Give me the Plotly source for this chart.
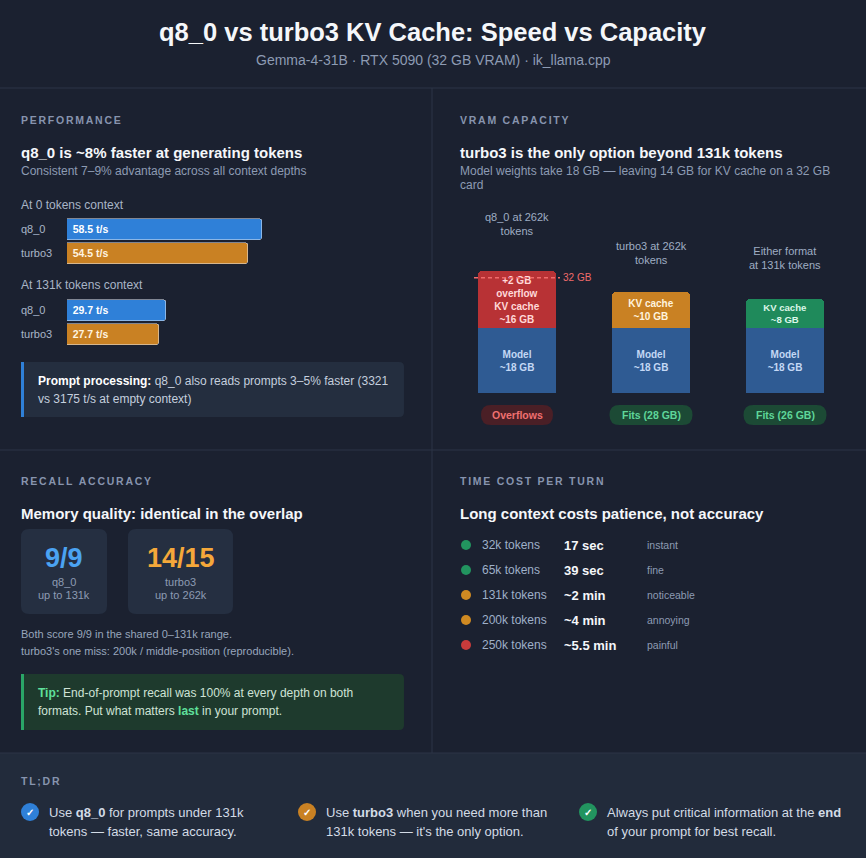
import plotly.graph_objects as go

W, H = 866, 858
FONT = "Liberation Sans, Arial, Helvetica, sans-serif"

BG = "#1b2130"
FOOTER_BG = "#222b3b"
RULE = "#2c3546"
WHITE = "#f5f7fa"
LABEL = "#8794ae"
MUTED = "#8d9bb3"
SOFT = "#a9b5c7"
BLUE = "#2f80d8"
ORANGE = "#c98123"
GREEN = "#1f8a5b"
RED = "#b83235"
MODEL_BLUE = "#2f5b93"

# --- data -------------------------------------------------------------
speed_formats = ["q8_0", "turbo3"]
speed_at_0k = [58.5, 54.5]
speed_at_131k = [29.7, 27.7]

vram_columns = ["q8_0 @ 262k", "turbo3 @ 262k", "either @ 131k"]
vram_labels = ["q8_0 at 262k<br>tokens", "turbo3 at 262k<br>tokens", "Either format<br>at 131k tokens"]
model_gb = [18, 18, 18]
kv_gb = [16, 10, 8]
card_gb = 32
vram_status = ["Overflows", "Fits (28 GB)", "Fits (26 GB)"]

recall_scores = ["9/9", "14/15"]
recall_formats = ["q8_0", "turbo3"]
recall_ranges = ["up to 131k", "up to 262k"]

turn_contexts = ["32k tokens", "65k tokens", "131k tokens", "200k tokens", "250k tokens"]
turn_times = ["17 sec", "39 sec", "~2 min", "~4 min", "~5.5 min"]
turn_feel = ["instant", "fine", "noticeable", "annoying", "painful"]
turn_colors = ["#22945f", "#22945f", "#d08a22", "#d08a22", "#c93b3b"]


def px(x):
    return x / W


def py(y):
    return 1 - y / H


annotations = []
shapes = []


def text(x, y, s, size=12, color=WHITE, anchor="left", **kw):
    annotations.append(dict(
        x=px(x), y=py(y), xref="paper", yref="paper", text=s, showarrow=False,
        xanchor=anchor, yanchor="middle", borderpad=0, borderwidth=0,
        font=dict(size=size, color=color, family=FONT), **kw))


def section(x, y, s):
    text(x, y, "<b>" + "\u2006".join(s) + "</b>", 10.5, LABEL)


def rect(x0, y0, x1, y1, fill, layer="below"):
    shapes.append(dict(type="rect", xref="paper", yref="paper", x0=px(x0), x1=px(x1),
                       y0=py(y1), y1=py(y0), fillcolor=fill, line_width=0, layer=layer))


def rrect(x0, y0, x1, y1, r, fill, layer="below"):
    def p(x, y):
        return f"{px(x):.5f},{py(y):.5f}"
    path = (f"M {p(x0 + r, y0)} L {p(x1 - r, y0)} Q {p(x1, y0)} {p(x1, y0 + r)} "
            f"L {p(x1, y1 - r)} Q {p(x1, y1)} {p(x1 - r, y1)} L {p(x0 + r, y1)} "
            f"Q {p(x0, y1)} {p(x0, y1 - r)} L {p(x0, y0 + r)} Q {p(x0, y0)} {p(x0 + r, y0)} Z")
    shapes.append(dict(type="path", xref="paper", yref="paper", path=path,
                       fillcolor=fill, line_width=0, layer=layer))


def hline(x0, x1, y, color=RULE):
    shapes.append(dict(type="line", xref="paper", yref="paper", x0=px(x0), x1=px(x1),
                       y0=py(y), y1=py(y), line=dict(color=color, width=1), layer="below"))


def vline(x, y0, y1, color=RULE):
    shapes.append(dict(type="line", xref="paper", yref="paper", x0=px(x), x1=px(x),
                       y0=py(y0), y1=py(y1), line=dict(color=color, width=1), layer="below"))


fig = go.Figure()

# --- frame ------------------------------------------------------------
rect(0, 753, W, H, FOOTER_BG)
hline(0, W, 88)
hline(0, W, 450)
hline(0, W, 753)
vline(432, 88, 753)

text(433, 32, "<b>q8_0 vs turbo3 KV Cache: Speed vs Capacity</b>", 25.5, WHITE, "center")
text(433, 60, "Gemma-4-31B · RTX 5090 (32 GB VRAM) · ik_llama.cpp", 14, MUTED, "center")

# --- performance ------------------------------------------------------
section(21, 120, "PERFORMANCE")
text(21, 152, "<b>q8_0 is ~8% faster at generating tokens</b>", 15)
text(21, 171, "Consistent 7–9% advantage across all context depths", 12, MUTED)
text(21, 205, "At 0 tokens context", 12, SOFT)
text(21, 285, "At 131k tokens context", 12, SOFT)

for i, vals in enumerate([speed_at_0k, speed_at_131k]):
    ax = "" if i == 0 else "2"
    fig.add_trace(go.Bar(
        x=vals, y=speed_formats, orientation="h", xaxis="x" + ax, yaxis="y" + ax,
        marker=dict(color=[BLUE, ORANGE], cornerradius=3), width=0.875,
        texttemplate="\u00a0<b>%{x} t/s</b>", textposition="inside", insidetextanchor="start",
        textfont=dict(size=10.5, color=["#ffffff", "#fff4e0"], family=FONT),
        hoverinfo="skip", showlegend=False))
    for f in speed_formats:
        annotations.append(dict(x=px(21), xref="paper", y=f, yref="y" + ax, text=f,
                                showarrow=False, xanchor="left", borderpad=0, borderwidth=0,
                                font=dict(size=11, color=SOFT, family=FONT)))

rrect(21, 362, 404, 417, 5, "#242e3f")
rect(21, 362, 24, 417, BLUE)
text(38, 381, "<span style='color:#ffffff'><b>Prompt processing:</b></span> q8_0 also reads prompts 3–5% faster (3321",
     12, "#c5cfde")
text(38, 399, "vs 3175 t/s at empty context)", 12, "#c5cfde")

# --- vram capacity ----------------------------------------------------
section(460, 120, "VRAM CAPACITY")
text(460, 152, "<b>turbo3 is the only option beyond 131k tokens</b>", 15)
text(460, 171, "Model weights take 18 GB — leaving 14 GB for KV cache on a 32 GB", 12, MUTED)
text(460, 185, "card", 12, MUTED)

fig.add_trace(go.Bar(
    x=vram_columns, y=model_gb, xaxis="x3", yaxis="y3", width=0.58,
    marker=dict(color=MODEL_BLUE, line_width=0),
    text=[f"<b>Model<br>~{v} GB</b>" for v in model_gb],
    textposition="inside", insidetextanchor="middle", textangle=0,
    textfont=dict(size=10, color="#c4d8f5", family=FONT),
    hoverinfo="skip", showlegend=False))

kv_text = []
for m, k in zip(model_gb, kv_gb):
    over = m + k - card_gb
    head = f"+{over} GB<br>overflow<br>" if over > 0 else ""
    kv_text.append(f"<b>{head}KV cache<br>~{k} GB</b>")

fig.add_trace(go.Bar(
    x=vram_columns, y=kv_gb, xaxis="x3", yaxis="y3", width=0.58,
    marker=dict(color=[RED, ORANGE, GREEN], line_width=0, cornerradius=4),
    text=kv_text, textposition="inside", insidetextanchor="middle", textangle=0,
    textfont=dict(size=10, color=["#ffd9d9", "#fff3de", "#dcf7e9"], family=FONT),
    hoverinfo="skip", showlegend=False))

shapes.append(dict(type="line", xref="paper", yref="y3", x0=px(474), x1=px(560),
                   y0=card_gb, y1=card_gb, line=dict(color="#f06b6b", width=1.5, dash="4px,3px"),
                   layer="above"))
annotations.append(dict(x=px(563), xref="paper", y=card_gb, yref="y3", text=f"{card_gb} GB",
                        showarrow=False, xanchor="left", borderpad=0, borderwidth=0,
                        font=dict(size=10, color="#f06b6b", family=FONT)))

label_pos = [(517, 224), (651, 253.5), (785, 257.5)]
for (cx, cy), lab in zip(label_pos, vram_labels):
    text(cx, cy, lab, 11, "#9fadc3", "center")

pills = [(517, 72, "#4a1f26", "#f07070"), (651, 83, "#1c4a35", "#5fd69a"),
         (785, 83, "#1c4a35", "#5fd69a")]
for (cx, w, bg, fg), s in zip(pills, vram_status):
    rrect(cx - w / 2, 405, cx + w / 2, 425, 10, bg)
    text(cx, 415, f"<b>{s}</b>", 10.5, fg, "center")

# --- recall accuracy --------------------------------------------------
section(21, 481, "RECALL ACCURACY")
text(21, 513, "<b>Memory quality: identical in the overlap</b>", 15)

cards = [(21, 107, "#4ba3f2"), (128, 233, "#f5a83a")]
for (x0, x1, col), sc, fm, rg in zip(cards, recall_scores, recall_formats, recall_ranges):
    rrect(x0, 529, x1, 614, 8, "#252f41")
    cx = (x0 + x1) / 2
    text(cx, 558, f"<b>{sc}</b>", 27, col, "center")
    text(cx, 582, fm, 11, MUTED, "center")
    text(cx, 595, rg, 11, MUTED, "center")

text(21, 634, "Both score 9/9 in the shared 0–131k range.", 11, "#98a6bc")
text(21, 651, "turbo3's one miss: 200k / middle-position (reproducible).", 11, "#98a6bc")

rrect(21, 674, 404, 730, 5, "#1e3a2d")
rect(21, 674, 24, 730, "#2aa567")
TIP = "#5fe09c"
text(38, 693, f"<span style='color:{TIP}'><b>Tip:</b></span> End-of-prompt recall was 100% at every depth on both",
     12, "#cfe3d6")
text(38, 711, f"formats. Put what matters <span style='color:{TIP}'><b>last</b></span> in your prompt.",
     12, "#cfe3d6")

# --- time cost --------------------------------------------------------
section(460, 481, "TIME COST PER TURN")
text(460, 513, "<b>Long context costs patience, not accuracy</b>", 15)

fig.add_trace(go.Scatter(
    x=[0.5] * len(turn_contexts), y=turn_contexts, xaxis="x4", yaxis="y4", mode="markers",
    marker=dict(size=10, color=turn_colors), hoverinfo="skip", showlegend=False))
for c, t, f in zip(turn_contexts, turn_times, turn_feel):
    for x, s, size, col in [(482, c, 12, "#9fb0c8"), (564, f"<b>{t}</b>", 13, WHITE),
                            (647, f, 10.5, "#8d9bb3")]:
        annotations.append(dict(x=px(x), xref="paper", y=c, yref="y4", text=s,
                                showarrow=False, xanchor="left", borderpad=0, borderwidth=0,
                                font=dict(size=size, color=col, family=FONT)))

# --- tl;dr ------------------------------------------------------------
section(21, 781, "TL;DR")
tldr = [
    (30, BLUE, "Use <b>q8_0</b> for prompts under 131k", "tokens — faster, same accuracy."),
    (307, ORANGE, "Use <b>turbo3</b> when you need more than", "131k tokens — it's the only option."),
    (588, "#22945f", "Always put critical information at the <b>end</b>", "of your prompt for best recall."),
]
for cx, col, l1, l2 in tldr:
    shapes.append(dict(type="circle", xref="paper", yref="paper", x0=px(cx - 9), x1=px(cx + 9),
                       y0=py(821), y1=py(803), fillcolor=col, line_width=0))
    text(cx, 812, "<b>✓</b>", 10, "#ffffff", "center")
    text(cx + 19, 812, l1, 13, "#d3dbe6")
    text(cx + 19, 831, l2, 13, "#d3dbe6")

hidden = dict(visible=False, fixedrange=True)
fig.update_layout(
    width=W, height=H, autosize=False,
    margin=dict(l=0, r=0, t=0, b=0),
    paper_bgcolor=BG, plot_bgcolor="rgba(0,0,0,0)",
    barmode="stack", bargap=0,
    font=dict(family=FONT, color=WHITE),
    xaxis=dict(domain=[px(67), px(400)], range=[0, 100], anchor="y", **hidden),
    yaxis=dict(domain=[py(265), py(217)], autorange="reversed", anchor="x", **hidden),
    xaxis2=dict(domain=[px(67), px(400)], range=[0, 100], anchor="y2", **hidden),
    yaxis2=dict(domain=[py(346), py(298)], autorange="reversed", anchor="x2", **hidden),
    xaxis3=dict(domain=[px(450), px(852)], anchor="y3", **hidden),
    yaxis3=dict(domain=[py(393), py(249)], range=[0, 40], anchor="x3", **hidden),
    xaxis4=dict(domain=[px(460), px(472)], range=[0, 1], anchor="y4", **hidden),
    yaxis4=dict(domain=[py(657.5), py(532.5)], autorange="reversed", anchor="x4", **hidden),
    annotations=annotations,
    shapes=shapes,
)

# the page body has an 8px default margin; drop it so the figure fills the window
fig.write_html("out.html", config={"displayModeBar": False},
               post_script="document.body.style.margin='0';")
